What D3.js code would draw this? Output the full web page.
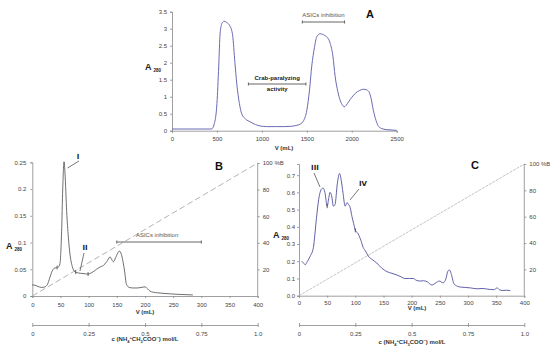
<!DOCTYPE html>
<html>
<head>
<meta charset="utf-8">
<script src="https://cdn.jsdelivr.net/npm/d3@7"></script>
<style>
  body { margin: 0; background: #fff; }
  svg { display: block; font-family: Arial, 'Liberation Sans', sans-serif; }
  .tick text { fill: #444; font-size: 6px; }
  .domain, .tick line { stroke: #888; stroke-width: 0.8; }
  .peak { font-family: 'DejaVu Sans', sans-serif; }
</style>
</head>
<body>
<svg id="chart" width="550" height="353"></svg>
<script>
// panel A: gel filtration
const aVolume = [0, 100, 200, 300, 400, 440, 470, 500, 520, 535, 555, 580, 610, 645, 675, 700, 720, 750, 775, 820, 870, 930, 980, 1050, 1150, 1250, 1330, 1390, 1430, 1465, 1500, 1530, 1555, 1585, 1610, 1648, 1700, 1740, 1760, 1790, 1815, 1845, 1870, 1900, 1915, 1935, 1965, 2000, 2040, 2085, 2130, 2165, 2190, 2215, 2240, 2270, 2300, 2320, 2350, 2390, 2450, 2500];
const aAbs = [0.05, 0.05, 0.05, 0.05, 0.05, 0.05, 0.2, 0.8, 1.9, 2.85, 3.15, 3.22, 3.18, 3.08, 2.8, 2.0, 1.4, 0.8, 0.5, 0.34, 0.26, 0.18, 0.14, 0.12, 0.12, 0.12, 0.13, 0.16, 0.2, 0.3, 0.6, 1.2, 1.9, 2.45, 2.76, 2.85, 2.8, 2.7, 2.57, 2.2, 1.6, 1.15, 0.9, 0.74, 0.7, 0.74, 0.85, 0.98, 1.1, 1.18, 1.22, 1.2, 1.15, 0.95, 0.6, 0.3, 0.12, 0.08, 0.05, 0.03, 0.02, 0.01];
const aXTicks = [0, 500, 1000, 1500, 2000, 2500];
const aYTicks = [0, 0.5, 1, 1.5, 2, 2.5, 3, 3.5];
const aAsics = [1450, 1920];
const aCrab = [850, 1490];

// panel B: ion exchange
const bVolume = [0, 5, 10, 16, 22, 27, 31, 35, 39, 43, 46, 49, 52, 54, 56.3, 58, 61, 64, 67, 71, 76, 82, 90, 99, 106, 114, 120, 126, 132, 138, 141, 144, 148, 151, 154.5, 158, 161, 164, 167, 172, 179, 186, 193, 200, 205, 209, 215, 222, 232, 245, 260, 285];
const bAbs = [0.021, 0.02, 0.018, 0.016, 0.017, 0.022, 0.034, 0.046, 0.052, 0.053, 0.054, 0.06, 0.12, 0.2, 0.251, 0.23, 0.158, 0.11, 0.077, 0.055, 0.045, 0.043, 0.042, 0.041, 0.044, 0.05, 0.054, 0.057, 0.064, 0.073, 0.068, 0.064, 0.072, 0.079, 0.084, 0.078, 0.064, 0.045, 0.022, 0.016, 0.015, 0.015, 0.016, 0.017, 0.013, 0.009, 0.007, 0.006, 0.005, 0.004, 0.003, 0.002];
const bXTicks = [0, 50, 100, 150, 200, 250, 300, 350, 400];
const bYTicks = [0, 0.05, 0.1, 0.15, 0.2, 0.25];
const bMarks = [44, 77, 99];
const bAsics = [150, 300];

// panel C: second ion exchange
const cVolume = [5, 8, 11, 15, 20, 25.5, 31, 35, 40, 43, 46, 50, 53, 55, 58, 61, 64, 68, 72, 75, 78, 82, 85, 88, 91, 94, 97, 100, 105, 110, 114, 118, 123, 130, 138, 147, 156, 165, 174, 181, 188, 196, 203, 208, 215, 221, 228, 236, 243, 249, 256, 261, 264, 267, 270, 275, 281, 287, 295, 305, 316, 325, 335, 346, 352, 356, 361, 368, 375];
const cAbs = [0.2, 0.19, 0.18, 0.2, 0.23, 0.28, 0.45, 0.56, 0.62, 0.625, 0.6, 0.52, 0.57, 0.6, 0.58, 0.52, 0.53, 0.65, 0.71, 0.67, 0.6, 0.52, 0.54, 0.53, 0.51, 0.46, 0.42, 0.38, 0.36, 0.32, 0.28, 0.26, 0.23, 0.21, 0.19, 0.16, 0.14, 0.13, 0.12, 0.11, 0.1, 0.1, 0.1, 0.09, 0.085, 0.087, 0.08, 0.062, 0.075, 0.085, 0.075, 0.1, 0.14, 0.15, 0.13, 0.07, 0.055, 0.05, 0.048, 0.045, 0.04, 0.042, 0.038, 0.035, 0.045, 0.035, 0.03, 0.032, 0.03];
const cXTicks = [0, 50, 100, 150, 200, 250, 300, 350, 400];
const cYTicks = [0, 0.1, 0.2, 0.3, 0.4, 0.5, 0.6, 0.7];
const cMarks = [50, 100];

// shared
const pctTicks = [20, 40, 60, 80, 100];
const concTicks = [0, 0.25, 0.5, 0.75, 1.0];
const gradient = [[0, 0], [400, 100]];

const svg = d3.select('#chart');

function axisLabel(x, y) {
  const t = svg.append('text')
    .attr('x', x).attr('y', y)
    .attr('fill', '#222')
    .attr('font-weight', 'bold')
    .attr('font-size', 9)
    .text('A');
  t.append('tspan').attr('font-size', 4.5).attr('dx', 2).attr('dy', 2).text('280');
}

function panelLetter(x, y, s) {
  svg.append('text')
    .attr('x', x).attr('y', y)
    .attr('fill', '#111')
    .attr('font-weight', 'bold')
    .attr('font-size', 11)
    .attr('text-anchor', 'middle')
    .text(s);
}

function smallText(x, y, s, opts = {}) {
  return svg.append('text')
    .attr('x', x).attr('y', y)
    .attr('fill', opts.fill || '#333')
    .attr('font-size', opts.size || 6)
    .attr('font-weight', opts.bold ? 'bold' : null)
    .attr('text-anchor', opts.anchor || 'middle')
    .text(s);
}

function peakLabel(x, y, s, from, to) {
  smallText(x, y, s, { bold: true, fill: '#222', size: 7 }).attr('class', 'peak');
  svg.append('line')
    .attr('x1', from[0]).attr('y1', from[1]).attr('x2', to[0]).attr('y2', to[1])
    .attr('stroke', '#555').attr('stroke-width', 0.8);
}

function bracket(x1, x2, y, color) {
  const g = svg.append('g').attr('stroke', color).attr('stroke-width', 0.9);
  g.append('line').attr('x1', x1).attr('x2', x2).attr('y1', y).attr('y2', y);
  g.append('line').attr('x1', x1).attr('x2', x1).attr('y1', y - 1.5).attr('y2', y + 1.5);
  g.append('line').attr('x1', x2).attr('x2', x2).attr('y1', y - 1.5).attr('y2', y + 1.5);
}

function concTitle(x, y) {
  const ct = smallText(x, y, 'c (NH', { bold: true });
  ct.append('tspan').attr('font-size', 4).attr('dy', 1.5).text('4');
  ct.append('tspan').attr('font-size', 4).attr('dy', -3.5).text('+');
  ct.append('tspan').attr('dy', 2).text('CH');
  ct.append('tspan').attr('font-size', 4).attr('dy', 1.5).text('3');
  ct.append('tspan').attr('dy', -1.5).text('COO');
  ct.append('tspan').attr('font-size', 4).attr('dy', -2).text('−');
  ct.append('tspan').attr('dy', 2).text(') mol/L');
}

/* ---------- panel A ---------- */
{
  const x = d3.scaleLinear().domain([0, 2500]).range([172, 396.7]);
  const y = d3.scaleLinear().domain([0, 3.5]).range([130.7, 11.7]);

  svg.append('g').attr('transform', `translate(0,${y(0)})`)
    .call(d3.axisBottom(x).tickValues(aXTicks).tickSize(2).tickPadding(4).tickFormat(d3.format('d')));
  svg.append('g').attr('transform', `translate(${x(0)},0)`)
    .call(d3.axisLeft(y).tickValues(aYTicks).tickSize(2).tickPadding(3).tickFormat(d => d));

  svg.append('path')
    .datum(aVolume.map((v, i) => [v, aAbs[i]]))
    .attr('fill', 'none')
    .attr('stroke', '#6a6ab4')
    .attr('stroke-width', 1)
    .attr('d', d3.line().x(d => x(d[0])).y(d => y(d[1])).curve(d3.curveMonotoneX));

  axisLabel(145, 70);
  smallText(284, 150, 'V (mL)', { bold: true, size: 6 });
  panelLetter(370, 18, 'A');

  smallText(x(d3.mean(aAsics)), 17, 'ASICs inhibition', { fill: '#555' });
  bracket(x(aAsics[0]), x(aAsics[1]), 22, '#555');

  smallText(x(d3.mean(aCrab)), 80, 'Crab-paralyzing', { bold: true, fill: '#222' });
  bracket(x(aCrab[0]), x(aCrab[1]), 84, '#555');
  smallText(x(d3.mean(aCrab)), 91, 'activity', { bold: true, fill: '#222' });
}

/* ---------- panel B ---------- */
{
  const x = d3.scaleLinear().domain([0, 400]).range([32.3, 257.7]);
  const y = d3.scaleLinear().domain([0, 0.25]).range([296, 162.3]);
  const yr = d3.scaleLinear().domain([0, 100]).range([296, 163]);
  const xc = d3.scaleLinear().domain([0, 1]).range([32.3, 257.7]);

  svg.append('g').attr('transform', `translate(0,${y(0)})`)
    .call(d3.axisBottom(x).tickValues(bXTicks).tickSize(2).tickPadding(5).tickFormat(d3.format('d')));
  svg.append('g').attr('transform', `translate(${x(0)},0)`)
    .call(d3.axisLeft(y).tickValues(bYTicks).tickSize(2).tickPadding(4).tickFormat(d => d));
  svg.append('g').attr('transform', `translate(${x(400)},0)`)
    .call(d3.axisRight(yr).tickValues(pctTicks).tickSize(2).tickPadding(3).tickFormat(d => d === 100 ? '100 %B' : d))
    .call(g => g.select('.domain').attr('d', `M0,${yr(0)}V${yr(100)}`));
  svg.append('g').attr('transform', 'translate(0,325)')
    .call(d3.axisBottom(xc).tickValues(concTicks).tickSizeInner(2).tickSizeOuter(0).tickPadding(5)
      .tickFormat(d => d === 1 ? '1.0' : d))
    .call(g => g.selectAll('.tick line').attr('y1', -2));

  svg.append('path')
    .datum(gradient)
    .attr('fill', 'none')
    .attr('stroke', '#aaa')
    .attr('stroke-width', 0.9)
    .attr('stroke-dasharray', '6,3')
    .attr('d', d3.line().x(d => x(d[0])).y(d => yr(d[1])));

  const bLine = bVolume.map((v, i) => [v, bAbs[i]]);
  svg.append('path')
    .datum(bLine)
    .attr('fill', 'none')
    .attr('stroke', '#555')
    .attr('stroke-width', 0.85)
    .attr('d', d3.line().x(d => x(d[0])).y(d => y(d[1])).curve(d3.curveMonotoneX));

  const interpB = v => {
    const i = d3.bisector(d => d[0]).left(bLine, v);
    const a = bLine[Math.max(0, i - 1)], b = bLine[i];
    return a[1] + (b[1] - a[1]) * ((v - a[0]) / ((b[0] - a[0]) || 1));
  };
  svg.append('g').selectAll('line').data(bMarks).join('line')
    .attr('x1', d => x(d)).attr('x2', d => x(d))
    .attr('y1', d => y(interpB(d)) - 2).attr('y2', d => y(interpB(d)) + 2)
    .attr('stroke', '#444').attr('stroke-width', 0.8);

  smallText(145, 314, 'V (mL)', { bold: true });
  concTitle(145, 341);

  axisLabel(6, 249);
  panelLetter(219, 170, 'B');

  peakLabel(78, 159, 'I', [67.5, 168], [79, 161]);
  peakLabel(85, 250, 'II', [84, 253], [80, 271]);

  smallText(x(d3.mean(bAsics)) - 2, 237, 'ASICs inhibition', { fill: '#555' });
  bracket(x(bAsics[0]), x(bAsics[1]), 242, '#555');
}

/* ---------- panel C ---------- */
{
  const x = d3.scaleLinear().domain([0, 400]).range([299, 524.3]);
  const y = d3.scaleLinear().domain([0, 0.765]).range([295.7, 164]);
  const yr = d3.scaleLinear().domain([0, 100]).range([295.7, 164]);
  const xc = d3.scaleLinear().domain([0, 1]).range([299, 524.3]);

  svg.append('g').attr('transform', `translate(0,${y(0)})`)
    .call(d3.axisBottom(x).tickValues(cXTicks).tickSize(2).tickPadding(3).tickFormat(d3.format('d')));
  svg.append('g').attr('transform', `translate(${x(0)},0)`)
    .call(d3.axisLeft(y).tickValues(cYTicks).tickSize(2).tickPadding(2).tickFormat(d3.format('.1f')));
  svg.append('g').attr('transform', `translate(${x(400)},0)`)
    .call(d3.axisRight(yr).tickValues(pctTicks).tickSize(2).tickPadding(3).tickFormat(d => d === 100 ? '100 %B' : d))
    .call(g => g.select('.domain').attr('d', `M0,${yr(0)}V${yr(100)}`));
  svg.append('g').attr('transform', 'translate(0,325)')
    .call(d3.axisBottom(xc).tickValues(concTicks).tickSizeInner(2).tickSizeOuter(0).tickPadding(5)
      .tickFormat(d => d === 1 ? '1.0' : d))
    .call(g => g.selectAll('.tick line').attr('y1', -2));

  svg.append('path')
    .datum(gradient)
    .attr('fill', 'none')
    .attr('stroke', '#b4b4b4')
    .attr('stroke-width', 0.8)
    .attr('stroke-dasharray', '3,1')
    .attr('d', d3.line().x(d => x(d[0])).y(d => yr(d[1])));

  const cLine = cVolume.map((v, i) => [v, cAbs[i]]);
  svg.append('path')
    .datum(cLine)
    .attr('fill', 'none')
    .attr('stroke', '#6262a8')
    .attr('stroke-width', 1)
    .attr('d', d3.line().x(d => x(d[0])).y(d => y(d[1])).curve(d3.curveMonotoneX));

  svg.append('g').selectAll('line').data(cMarks).join('line')
    .attr('x1', d => x(d)).attr('x2', d => x(d))
    .attr('y1', d => y(cLine.find(p => p[0] >= d)[1]) - 2)
    .attr('y2', d => y(cLine.find(p => p[0] >= d)[1]) + 2)
    .attr('stroke', '#334').attr('stroke-width', 0.8);

  smallText(417, 310, 'V (mL)', { bold: true });
  concTitle(412, 344);

  axisLabel(273, 238);
  panelLetter(475, 169, 'C');

  peakLabel(315, 170, 'III', [314, 173], [320, 187]);
  peakLabel(363, 186, 'IV', [359, 189], [350, 200]);
}
</script>
</body>
</html>
